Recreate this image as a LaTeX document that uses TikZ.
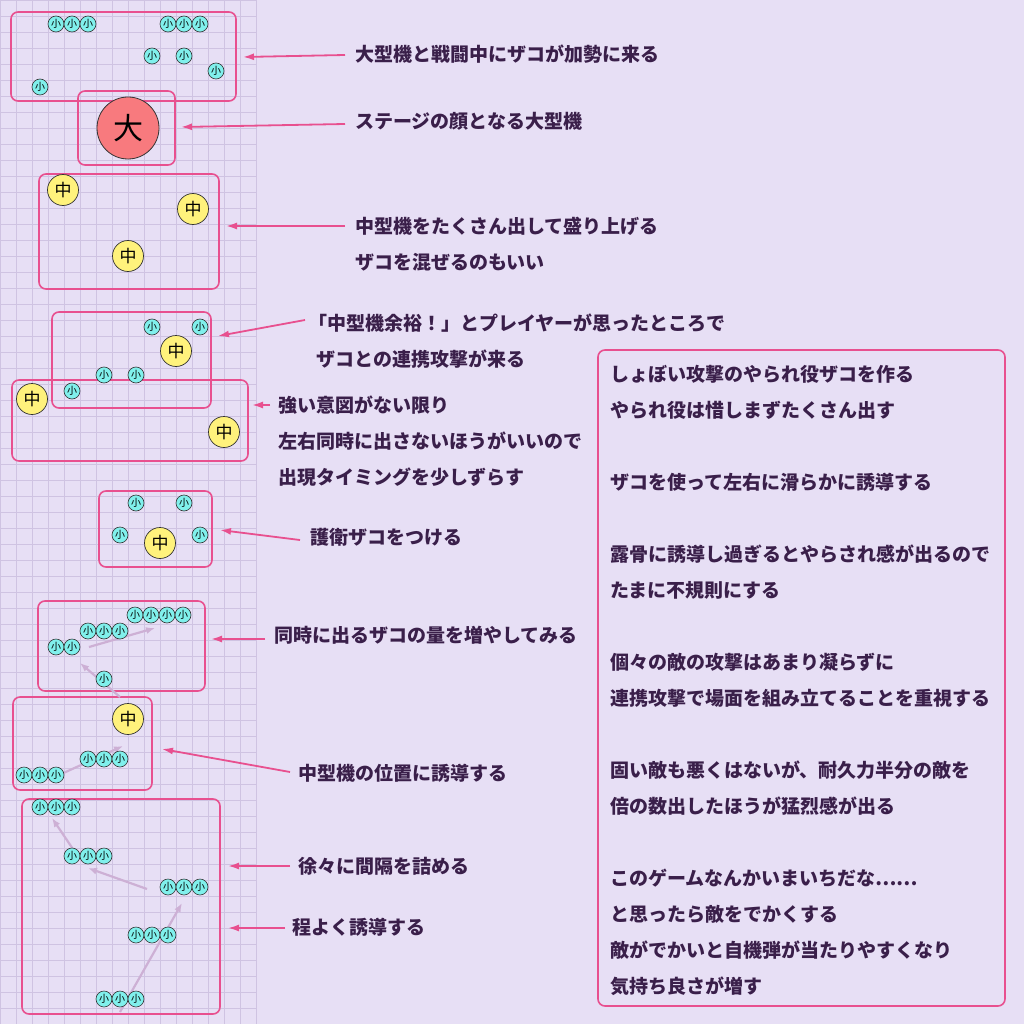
\documentclass[tikz,border=0pt]{standalone}
\usepackage{fontspec}
\setmainfont{Noto Sans CJK JP}
\usetikzlibrary{arrows.meta}
\definecolor{bg}{HTML}{E7DFF5}
\definecolor{gridc}{HTML}{CFC3E2}
\definecolor{pk}{HTML}{E8508F}
\definecolor{tx}{HTML}{3A1F4A}
\definecolor{cy}{HTML}{80F0EC}
\definecolor{ye}{HTML}{FFF27C}
\definecolor{rd}{HTML}{F87A7E}
\definecolor{fa}{HTML}{CDB0D5}
\tikzset{
 box/.style={draw=pk,line width=1.6pt,rounded corners=7pt},
 sm/.style={circle,draw=black!80,fill=cy,minimum size=16pt,inner sep=0pt,font=\fontsize{10}{10}\selectfont,line width=0.6pt},
 md/.style={circle,draw=black!80,fill=ye,minimum size=31pt,inner sep=0pt,font=\fontsize{17}{17}\selectfont,line width=0.7pt},
 lg/.style={circle,draw=black!80,fill=rd,minimum size=62pt,inner sep=0pt,font=\fontsize{30}{30}\selectfont,line width=0.8pt},
 lab/.style={anchor=west,text=tx,font=\fontsize{19}{36}\selectfont\bfseries,align=left,inner sep=0pt},
 par/.style={pk,line width=1.8pt,-{Latex[length=11pt,width=7pt]}},
 fad/.style={fa,line width=2.2pt,-{Latex[length=9pt,width=7pt]}},
}
\begin{document}
\begin{tikzpicture}[x=1pt,y=-1pt]
\useasboundingbox (0,0) rectangle (1024,1024);
\fill[bg] (0,0) rectangle (1024,1024);
\foreach \i in {0,16,...,256} \draw[gridc,line width=0.8pt] (\i,0) -- (\i,1024);
\foreach \j in {0,16,...,1024} \draw[gridc,line width=0.8pt] (0,\j) -- (256,\j);
% boxes
\draw[box] (11,12) rectangle (236,101);
\draw[box] (78,91) rectangle (175,165);
\draw[box] (39,174) rectangle (219,289);
\draw[box] (52,312) rectangle (211,408);
\draw[box] (12,380) rectangle (248,461);
\draw[box] (99,491) rectangle (212,567);
\draw[box] (38,601) rectangle (205,691);
\draw[box] (13,697) rectangle (152,790);
\draw[box] (22,799) rectangle (220,1014);
\draw[box] (598,350) rectangle (1005,1006);
% faint arrows
\draw[fad] (89,647) -- (155,628);
\draw[fad] (120,697) -- (80,663);
\draw[fad] (48,780) -- (123,746);
\draw[fad] (77,855) -- (52,818);
\draw[fad] (147,889) -- (88,868);
\draw[fad] (120,1012) -- (182,903);
% enemies
\foreach \x/\y [count=\k] in {56/24,72/24,88/24,168/24,184/24,200/24,152/56,184/56,216/71,40/87,
 152/327,200/327,104/375,136/375,72/391,136/503,184/503,120/535,200/535,
 135/615,151/615,167/615,183/615,88/631,104/631,120/631,56/647,72/647,104/679,
 88/759,104/759,120/759,24/775,40/775,56/775,
 40/807,56/807,72/807,72/856,88/856,104/856,168/887,184/887,200/887,136/935,152/935,168/935,104/999,120/999,136/999}
 \node[sm] (s\k) at (\x,\y) {小};
\node[lg] (L) at (128,128) {大};
\foreach \x/\y [count=\k] in {63/190,193/209,128/256,176/351,32/399,224/432,160/543,128/719}
 \node[md] (m\k) at (\x,\y) {中};
% labels
\node[lab] (t1) at (355,54) {大型機と戦闘中にザコが加勢に来る};
\node[lab] (t2) at (355,121) {ステージの顔となる大型機};
\node[lab] (t3) at (355,244) {中型機をたくさん出して盛り上げる\\ザコを混ぜるのもいい};
\node[lab] (t4) at (308,341) {「中型機余裕！」とプレイヤーが思ったところで\\\hspace*{8pt}ザコとの連携攻撃が来る};
\node[lab] (t5) at (278,441) {強い意図がない限り\\左右同時に出さないほうがいいので\\出現タイミングを少しずらす};
\node[lab] (t6) at (310,537) {護衛ザコをつける};
\node[lab] (t7) at (274,635) {同時に出るザコの量を増やしてみる};
\node[lab] (t8) at (298,773) {中型機の位置に誘導する};
\node[lab] (t9) at (298,866) {徐々に間隔を詰める};
\node[lab] (t10) at (292,927) {程よく誘導する};
\node[lab,anchor=north west] (big) at (610,365) {しょぼい攻撃のやられ役ザコを作る\\やられ役は惜しまずたくさん出す\\[36pt]ザコを使って左右に滑らかに誘導する\\[36pt]露骨に誘導し過ぎるとやらされ感が出るので\\たまに不規則にする\\[36pt]個々の敵の攻撃はあまり凝らずに\\連携攻撃で場面を組み立てることを重視する\\[36pt]固い敵も悪くはないが、耐久力半分の敵を\\倍の数出したほうが猛烈感が出る\\[36pt]このゲームなんかいまいちだな……\\と思ったら敵をでかくする\\敵がでかいと自機弾が当たりやすくなり\\気持ち良さが増す};
% pink arrows
\coordinate (e1) at (243,57); \draw[par] (345,55) -- (e1);
\coordinate (e2) at (181,127); \draw[par] (345,124) -- (e2);
\coordinate (e3) at (226,226); \draw[par] (345,226) -- (e3);
\coordinate (e4) at (218,336); \draw[par] (305,320) -- (e4);
\coordinate (e5) at (252,405); \draw[par] (270,405) -- (e5);
\coordinate (e6) at (220,530); \draw[par] (300,540) -- (e6);
\coordinate (e7) at (211,639); \draw[par] (265,639) -- (e7);
\coordinate (e8) at (162,749); \draw[par] (290,772) -- (e8);
\coordinate (e9) at (228,866); \draw[par] (290,866) -- (e9);
\coordinate (e10) at (228,928); \draw[par] (285,928) -- (e10);
\end{tikzpicture}
\end{document}
